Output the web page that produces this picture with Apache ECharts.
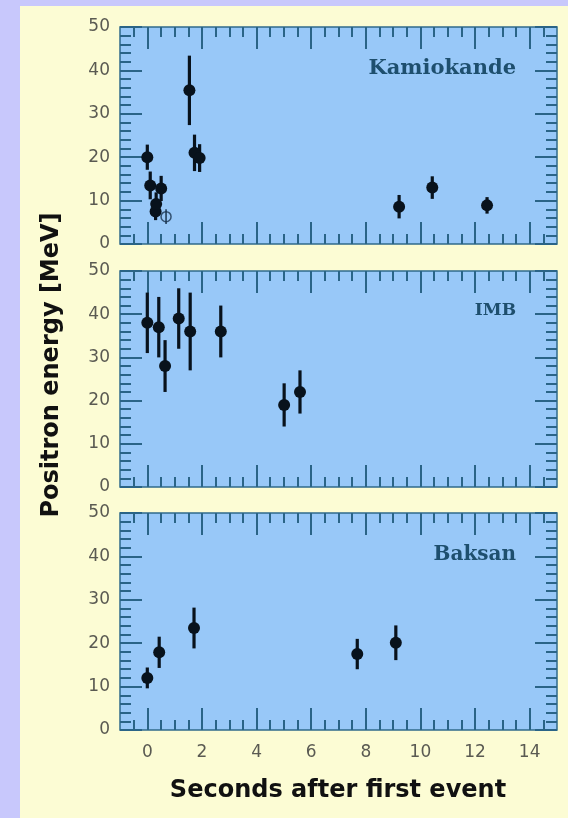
<!DOCTYPE html>
<html><head><meta charset="utf-8">
<script src="https://cdn.jsdelivr.net/npm/echarts@6/dist/echarts.min.js"></script>
<style>
html,body{margin:0;padding:0;background:#c8c8fc;width:568px;height:818px;overflow:hidden}
#bg{position:absolute;left:20px;top:6px;width:548px;height:812px;background:#fcfcd4}
#chart{position:absolute;left:0;top:0;width:568px;height:818px}
</style></head><body><div id="bg"></div><div id="chart"></div>
<script>
// ---- data ----
const kamTime   = [0, 0.107, 0.303, 0.324, 0.507, 1.541, 1.728, 1.915, 9.219, 10.433, 12.439];
const kamEnergy = [20.0, 13.5, 7.5, 9.2, 12.8, 35.4, 21.0, 19.8, 8.6, 13.0, 8.9];
const kamError  = [2.9, 3.2, 2.0, 2.7, 2.9, 8.0, 4.2, 3.2, 2.7, 2.6, 1.9];
const kamOpenTime   = [0.686];
const kamOpenEnergy = [6.3];
const kamOpenError  = [1.7];
const imbTime   = [0, 0.42, 0.65, 1.15, 1.57, 2.69, 5.01, 5.59];
const imbEnergy = [38, 37, 28, 39, 36, 36, 19, 22];
const imbError  = [7, 7, 6, 7, 9, 6, 5, 5];
const bakTime   = [0, 0.435, 1.710, 7.687, 9.099];
const bakEnergy = [12.0, 17.9, 23.5, 17.5, 20.1];
const bakError  = [2.4, 3.6, 4.7, 3.5, 4.0];
const xTickLabels = [0, 2, 4, 6, 8, 10, 12, 14];
const xMinorStep = 0.5;
const xRange = [-1, 15];
const yRange = [0, 50];
const panelNames = ['Kamiokande', 'IMB', 'Baksan'];
const xTitle = 'Seconds after first event';
const yTitle = 'Positron energy [MeV]';

// ---- styling / layout ----
const tickColor = '#2a6487';
const labelColor = '#5a5a52';
const dotColor = '#08121c';
const panels = [
  {time: kamTime, energy: kamEnergy, err: kamError, openTime: kamOpenTime, openEnergy: kamOpenEnergy, openErr: kamOpenError},
  {time: imbTime, energy: imbEnergy, err: imbError},
  {time: bakTime, energy: bakEnergy, err: bakError}
];
const gridTops = [27, 271, 513];
const gridHeights = [217, 216, 217];
const panelFonts = ['bold 21px "DejaVu Serif"', 'bold 17px "DejaVu Serif"', 'bold 20px "DejaVu Serif"'];

const minorTicks = [];
for (let v = xRange[0] + xMinorStep; v < xRange[1] - 1e-9; v += xMinorStep) {
  if (xTickLabels.indexOf(v) < 0) minorTicks.push(v);
}

const grids = [], xAxes = [], yAxes = [], series = [], graphics = [];
const labelFont = {fontFamily: 'DejaVu Sans', fontSize: 17, color: labelColor};

panels.forEach((p, i) => {
  grids.push({left: 120, right: 11, top: gridTops[i], height: gridHeights[i], show: true,
    backgroundColor: '#98c8f8', borderColor: '#2f6a8a', borderWidth: 1.5});
  ['bottom', 'top'].forEach(pos => {
    xAxes.push({gridIndex: i, type: 'value', position: pos, min: xRange[0], max: xRange[1],
      axisLine: {show: false, onZero: false}, splitLine: {show: false},
      axisTick: {show: true, inside: true, length: 22, customValues: xTickLabels, lineStyle: {color: tickColor, width: 2}},
      axisLabel: Object.assign({show: pos === 'bottom' && i === 2, customValues: xTickLabels, margin: 14}, labelFont)});
    xAxes.push({gridIndex: i, type: 'value', position: pos, min: xRange[0], max: xRange[1],
      axisLine: {show: false, onZero: false}, splitLine: {show: false},
      axisTick: {show: true, inside: true, length: 10, customValues: minorTicks, lineStyle: {color: tickColor, width: 2}},
      axisLabel: {show: false}});
  });
  ['left', 'right'].forEach(pos => {
    yAxes.push({gridIndex: i, type: 'value', position: pos, min: yRange[0], max: yRange[1], interval: 10,
      axisLine: {show: false, onZero: false}, splitLine: {show: false},
      axisTick: {show: true, inside: true, length: 22, lineStyle: {color: tickColor, width: 2}},
      minorTick: {show: true, splitNumber: 5, length: 11, lineStyle: {color: tickColor, width: 2}},
      axisLabel: Object.assign({show: pos === 'left', margin: 10}, labelFont)});
  });
  const xi = i * 4, yi = i * 2;
  const errData = p.time.map((t, k) => [t, p.energy[k], p.energy[k] - p.err[k], p.energy[k] + p.err[k]]);
  const errRender = (params, api) => {
    const a = api.coord([api.value(0), api.value(2)]);
    const b = api.coord([api.value(0), api.value(3)]);
    return {type: 'line', shape: {x1: a[0], y1: a[1], x2: b[0], y2: b[1]},
      style: {stroke: dotColor, lineWidth: 3.2}};
  };
  series.push({type: 'custom', xAxisIndex: xi, yAxisIndex: yi, renderItem: errRender,
    encode: {x: 0, y: [1, 2, 3]}, data: errData, z: 3});
  series.push({type: 'scatter', xAxisIndex: xi, yAxisIndex: yi, symbol: 'circle', symbolSize: 12,
    itemStyle: {color: dotColor, opacity: 1}, data: p.time.map((t, k) => [t, p.energy[k]]), z: 4});
  if (p.openTime) {
    const oData = p.openTime.map((t, k) => [t, p.openEnergy[k], p.openEnergy[k] - p.openErr[k], p.openEnergy[k] + p.openErr[k]]);
    series.push({type: 'custom', xAxisIndex: xi, yAxisIndex: yi, z: 5,
      encode: {x: 0, y: [1, 2, 3]}, data: oData,
      renderItem: (params, api) => {
        const a = api.coord([api.value(0), api.value(2)]);
        const b = api.coord([api.value(0), api.value(3)]);
        return {type: 'line', shape: {x1: a[0], y1: a[1], x2: b[0], y2: b[1]},
          style: {stroke: '#1a3550', lineWidth: 1.5}};
      }});
    series.push({type: 'scatter', xAxisIndex: xi, yAxisIndex: yi, symbol: 'circle', symbolSize: 10, z: 5,
      itemStyle: {color: 'rgba(0,0,0,0)', borderColor: '#1a3550', borderWidth: 1.5},
      data: p.openTime.map((t, k) => [t, p.openEnergy[k]])});
  }
  graphics.push({type: 'text', right: 568 - 516, top: gridTops[i] + gridHeights[i] * 0.2 - 12,
    style: {text: panelNames[i], fill: '#1e4f6e', font: panelFonts[i]}});
});

graphics.push({type: 'text', x: 338, y: 791,
  style: {text: xTitle, fill: '#111', font: 'bold 24px "DejaVu Sans"', textAlign: 'center', textVerticalAlign: 'middle'}});
graphics.push({type: 'text', x: 52, y: 365, rotation: Math.PI / 2,
  style: {text: yTitle, fill: '#111', font: 'bold 24px "DejaVu Sans"', textAlign: 'center', textVerticalAlign: 'middle'}});

const chart = echarts.init(document.getElementById('chart'), null, {renderer: 'canvas'});
chart.setOption({
  animation: false,
  backgroundColor: 'transparent',
  grid: grids, xAxis: xAxes, yAxis: yAxes, series: series, graphic: graphics
});
</script></body></html>
